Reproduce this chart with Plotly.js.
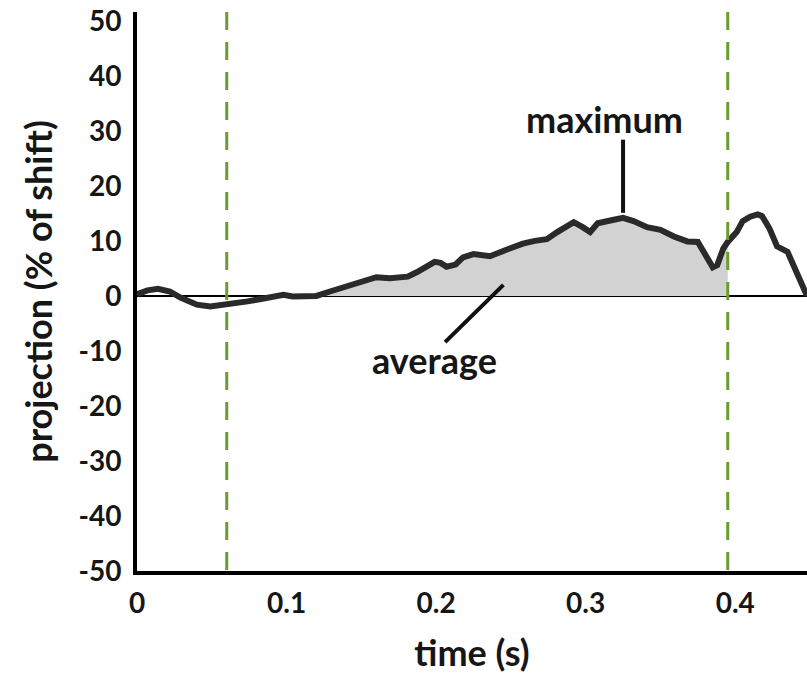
<!DOCTYPE html>
<html>
<head>
<meta charset="utf-8">
<script src="https://cdn.plot.ly/plotly-3.0.1.min.js"></script>
<style>html,body{margin:0;padding:0;background:#fff;}#chart{width:807px;height:675px;}</style>
</head>
<body>
<div id="chart"></div>
<script>
// time (s)
var time = [0, 0.007, 0.014, 0.022, 0.029, 0.035, 0.040, 0.049, 0.056, 0.060, 0.067, 0.074, 0.082, 0.089, 0.098, 0.104, 0.112, 0.120, 0.129, 0.140, 0.151, 0.160, 0.169, 0.181, 0.187, 0.194, 0.199, 0.203, 0.207, 0.213, 0.218, 0.225, 0.236, 0.247, 0.258, 0.266, 0.274, 0.281, 0.286, 0.292, 0.298, 0.303, 0.308, 0.313, 0.318, 0.325, 0.332, 0.341, 0.350, 0.359, 0.368, 0.375, 0.379, 0.385, 0.388, 0.392, 0.395, 0.401, 0.405, 0.410, 0.415, 0.418, 0.423, 0.428, 0.435, 0.439, 0.443, 0.448];
// projection (% of shift)
var projection = [0.3, 1.0, 1.3, 0.8, -0.3, -1.1, -1.6, -1.9, -1.7, -1.5, -1.3, -1.0, -0.6, -0.2, 0.2, -0.1, -0.1, 0.0, 0.8, 1.7, 2.6, 3.4, 3.2, 3.5, 4.3, 5.6, 6.2, 6.0, 5.3, 5.7, 7.0, 7.6, 7.2, 8.4, 9.5, 10.0, 10.3, 11.6, 12.5, 13.4, 12.5, 11.6, 13.2, 13.6, 13.8, 14.2, 13.6, 12.5, 12.0, 10.8, 9.9, 9.8, 8.0, 5.2, 5.6, 8.6, 9.8, 11.6, 13.6, 14.4, 14.8, 14.5, 12.2, 9.0, 8.0, 5.5, 2.5, 0.0];
// analysis window markers (s)
var windowTimes = [0.060, 0.395];
var fillStart = 0.120;
var xTickVals = [0, 0.1, 0.2, 0.3, 0.4];
var xTickText = ["0", "0.1", "0.2", "0.3", "0.4"];
var yTickVals = [-50, -40, -30, -20, -10, 0, 10, 20, 30, 40, 50];
var yTickText = ["-50", "-40", "-30", "-20", "-10", "0", "10", "20", "30", "40", "50"];

var fx = [], fy = [];
for (var i = 0; i < time.length; i++) {
  if (time[i] >= fillStart && time[i] <= windowTimes[1]) { fx.push(time[i]); fy.push(projection[i]); }
}
// location of maximum within window
var mi = -1;
for (var j = 0; j < time.length; j++) {
  if (time[j] >= windowTimes[0] && time[j] <= windowTimes[1] && (mi < 0 || projection[j] > projection[mi])) mi = j;
}
var xMax = time[mi], yMax = projection[mi];

var font = {family: "Lato, 'Open Sans', sans-serif", weight: 700, color: "#161616"};
function f(size) { return Object.assign({}, font, {size: size}); }

var traces = [
  {x: fx, y: fy, type: "scatter", mode: "lines", fill: "tozeroy", fillcolor: "#d2d2d2", line: {width: 0, color: "rgba(0,0,0,0)"}, hoverinfo: "skip", showlegend: false},
  {x: time, y: projection, type: "scatter", mode: "lines", line: {color: "#2a2a2a", width: 6}, showlegend: false}
];

var shapes = windowTimes.map(function (t) {
  return {type: "line", xref: "x", yref: "paper", x0: t, x1: t, y0: 1, y1: 0, line: {color: "#6a9e2a", width: 3, dash: "18px,12px"}, layer: "above"};
});
shapes.push({type: "line", xref: "x", yref: "y", x0: xMax, x1: xMax, y0: yMax + 0.9, y1: 28.4, line: {color: "#111", width: 4}});
shapes.push({type: "line", xref: "x", yref: "y", x0: 0.206, x1: 0.245, y0: -8.4, y1: 2.0, line: {color: "#111", width: 4}});

var layout = {
  width: 807, height: 675,
  margin: {l: 137, r: 0, t: 12, b: 104},
  paper_bgcolor: "#fff", plot_bgcolor: "#fff",
  showlegend: false,
  xaxis: {
    range: [0, 0.448], showgrid: false, zeroline: false,
    showline: true, linecolor: "#000", linewidth: 4,
    ticks: "", tickvals: xTickVals, ticktext: xTickText,
    tickfont: f(28), ticklabelstandoff: 4,
    title: {text: "time (s)", font: f(36), standoff: 24}
  },
  yaxis: {
    range: [-50, 51.6], showgrid: false,
    zeroline: true, zerolinecolor: "#000", zerolinewidth: 1.5,
    showline: true, linecolor: "#000", linewidth: 4,
    ticks: "", tickvals: yTickVals, ticktext: yTickText,
    tickfont: f(28), ticklabelstandoff: 6,
    title: {text: "projection (% of shift)", font: f(36), standoff: 16}
  },
  shapes: shapes,
  annotations: [
    {x: 0.3126, y: 32.1, xref: "x", yref: "y", text: "maximum", showarrow: false, font: f(36), yanchor: "middle", xanchor: "center"},
    {x: 0.199, y: -11.6, xref: "x", yref: "y", text: "average", showarrow: false, font: f(36), yanchor: "middle", xanchor: "center"}
  ]
};

Plotly.newPlot("chart", traces, layout, {displayModeBar: false, staticPlot: true});
</script>
</body>
</html>
